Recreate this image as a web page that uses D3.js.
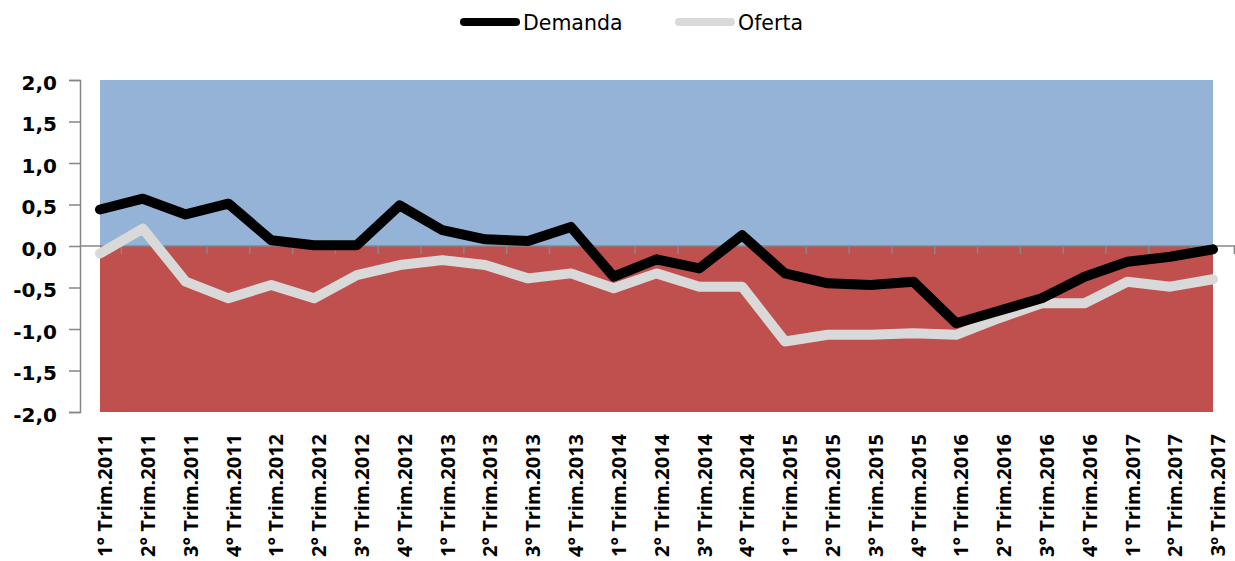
<!DOCTYPE html>
<html>
<head>
<meta charset="utf-8">
<script src="https://cdn.jsdelivr.net/npm/d3@7"></script>
<style>
  html, body { margin: 0; padding: 0; background: #ffffff; }
  svg { display: block; }
</style>
</head>
<body>
<svg id="chart" width="1235" height="561"></svg>
<script>
const categories = [
  "1° Trim.2011","2° Trim.2011","3° Trim.2011","4° Trim.2011",
  "1° Trim.2012","2° Trim.2012","3° Trim.2012","4° Trim.2012",
  "1° Trim.2013","2° Trim.2013","3° Trim.2013","4° Trim.2013",
  "1° Trim.2014","2° Trim.2014","3° Trim.2014","4° Trim.2014",
  "1° Trim.2015","2° Trim.2015","3° Trim.2015","4° Trim.2015",
  "1° Trim.2016","2° Trim.2016","3° Trim.2016","4° Trim.2016",
  "1° Trim.2017","2° Trim.2017","3º Trim.2017"
];
const demanda = [
  0.44, 0.57, 0.38, 0.51,
  0.07, 0.01, 0.01, 0.49,
  0.19, 0.08, 0.06, 0.23,
  -0.37, -0.16, -0.27, 0.13,
  -0.33, -0.45, -0.47, -0.43,
  -0.93, -0.78, -0.63, -0.37,
  -0.19, -0.13, -0.04
];
const oferta = [
  -0.09, 0.21, -0.43, -0.63,
  -0.47, -0.63, -0.35, -0.23,
  -0.17, -0.23, -0.39, -0.33,
  -0.51, -0.33, -0.49, -0.49,
  -1.15, -1.07, -1.07, -1.05,
  -1.07, -0.87, -0.69, -0.69,
  -0.43, -0.49, -0.40
];
const positiveBand = 2.0;   // blue background area series
const negativeBand = -2.0;  // red background area series
const yTicks = [2.0, 1.5, 1.0, 0.5, 0.0, -0.5, -1.0, -1.5, -2.0];
const seriesNames = ["Demanda", "Oferta"];

const svg = d3.select("#chart");
const fmt = v => d3.format(".1f")(v).replace(".", ",").replace("−", "-");

const x = d3.scaleBand().domain(categories).range([78.6, 1234.4]).paddingInner(0).paddingOuter(0);
const cx = c => x(c) + x.bandwidth() / 2;
const y = d3.scaleLinear().domain([-2, 2]).range([412, 80]);

const axisColor = "#868686";

// background area series
const areaPos = d3.area().x(d => cx(d)).y0(y(0)).y1(y(positiveBand));
const areaNeg = d3.area().x(d => cx(d)).y0(y(0)).y1(y(negativeBand));
svg.append("path").datum(categories).attr("d", areaPos).attr("fill", "#95B3D7");
svg.append("path").datum(categories).attr("d", areaNeg).attr("fill", "#C0504D");

// y axis
const yAxis = d3.axisLeft(y).tickValues(yTicks).tickSize(11).tickPadding(12).tickFormat(fmt);
const gy = svg.append("g").attr("transform", "translate(80,0)").call(yAxis);
gy.select(".domain").attr("stroke", axisColor).attr("stroke-width", 1.5);
gy.selectAll(".tick line").attr("stroke", axisColor).attr("stroke-width", 1.5);
gy.selectAll(".tick text")
  .attr("font-family", "DejaVu Sans")
  .attr("font-weight", "bold")
  .attr("font-size", "20px")
  .attr("fill", "#000")
  .attr("dy", "0.45em");

// x axis along zero line (ticks at category boundaries)
const gx = svg.append("g").attr("transform", `translate(0,${y(0)})`);
gx.append("line").attr("x1", 80).attr("x2", 1235).attr("y1", 0).attr("y2", 0)
  .attr("stroke", axisColor).attr("stroke-width", 1.5);
const boundaries = categories.map(c => x(c) + x.bandwidth());
gx.selectAll("line.tk").data(boundaries).enter().append("line")
  .attr("class", "tk")
  .attr("x1", d => d).attr("x2", d => d)
  .attr("y1", 0).attr("y2", 8)
  .attr("stroke", axisColor).attr("stroke-width", 1.5);

// x labels at bottom, rotated
svg.append("g").selectAll("text").data(categories).enter().append("text")
  .attr("transform", d => `translate(${cx(d) + 5},434) rotate(-90)`)
  .attr("text-anchor", "end")
  .attr("dy", "0.36em")
  .attr("font-family", "Open Sans")
  .attr("font-weight", "bold")
  .attr("font-size", "20px")
  .attr("fill", "#000")
  .text(d => d);

// lines
const line = d3.line().x((d, i) => cx(categories[i])).y(d => y(d));
svg.append("path").datum(oferta).attr("d", line)
  .attr("fill", "none").attr("stroke", "#D9D9D9").attr("stroke-width", 10)
  .attr("stroke-linejoin", "round").attr("stroke-linecap", "round");
svg.append("path").datum(demanda).attr("d", line)
  .attr("fill", "none").attr("stroke", "#000000").attr("stroke-width", 10)
  .attr("stroke-linejoin", "round").attr("stroke-linecap", "round");

// legend
const legend = [
  { name: seriesNames[0], color: "#000000", x1: 464, x2: 516, tx: 523 },
  { name: seriesNames[1], color: "#D9D9D9", x1: 679, x2: 731, tx: 738 }
];
const lg = svg.append("g");
legend.forEach(l => {
  lg.append("line").attr("x1", l.x1).attr("x2", l.x2).attr("y1", 22).attr("y2", 22)
    .attr("stroke", l.color).attr("stroke-width", 8).attr("stroke-linecap", "round");
  lg.append("text").attr("x", l.tx).attr("y", 29.5)
    .attr("font-family", "DejaVu Sans").attr("font-size", "20.5px").attr("fill", "#000")
    .text(l.name);
});
</script>
</body>
</html>
